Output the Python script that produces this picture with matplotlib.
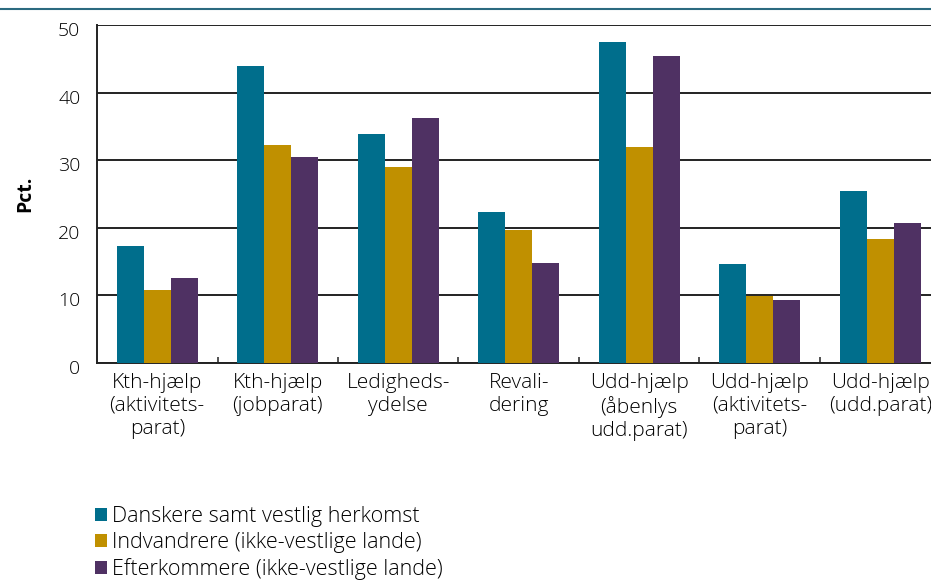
import numpy as np
import matplotlib.pyplot as plt
import matplotlib.transforms as mtransforms
from matplotlib.lines import Line2D
from matplotlib.patches import Patch

categories = ['Kth-hjælp\n(aktivitets-\nparat)', 'Kth-hjælp\n(jobparat)', 'Ledigheds-\nydelse',
              'Revali-\ndering', 'Udd-hjælp\n(åbenlys\nudd.parat)', 'Udd-hjælp\n(aktivitets-\nparat)',
              'Udd-hjælp\n(udd.parat)']
series_names = ['Danskere samt vestlig herkomst', 'Indvandrere (ikke-vestlige lande)',
                'Efterkommere (ikke-vestlige lande)']
danskere = [17.3, 43.9, 33.9, 22.3, 47.5, 14.6, 25.4]
indvandrere = [10.8, 32.2, 29.0, 19.7, 32.0, 9.9, 18.3]
efterkommere = [12.6, 30.5, 36.2, 14.8, 45.4, 9.3, 20.7]
colors = ['#006e8c', '#c09000', '#4f3163']

plt.rcParams['font.family'] = ['Open Sans', 'DejaVu Sans']

fig = plt.figure(figsize=(9.31, 5.81), dpi=100)
ax = fig.add_axes([97 / 931, 1 - 363 / 581, 843.5 / 931, 338 / 581])

x = np.arange(len(categories))
w = 0.224
for i, (vals, c) in enumerate(zip([danskere, indvandrere, efterkommere], colors)):
    ax.bar(x + (i - 1) * w, vals, w, color=c, zorder=3)

ax.set_xlim(-0.5, len(categories) - 0.5)
ax.set_ylim(0, 50)
ax.set_yticks(range(0, 51, 10))
ax.yaxis.grid(True, color='#222222', linewidth=1.4, zorder=0)
ax.tick_params(axis='y', length=0, pad=12, labelsize=14)
shift = mtransforms.ScaledTranslation(0, -4 / 100, fig.dpi_scale_trans)
for lbl in ax.get_yticklabels():
    lbl.set_fontweight('light')
    lbl.set_transform(lbl.get_transform() + shift)
ax.set_xticks(x)
ax.set_xticklabels(categories, fontsize=15, linespacing=1.2, fontweight='light')
ax.tick_params(axis='x', length=0, pad=7)
ax.set_xticks(np.arange(0.5, len(categories) - 1, 1), minor=True)
ax.tick_params(axis='x', which='minor', direction='in', length=4, width=1.2, color='#333333')
for s in ['top', 'right']:
    ax.spines[s].set_visible(False)
ax.spines['left'].set_linewidth(1.4)
ax.spines['bottom'].set_linewidth(1.4)
ax.spines['left'].set_color('#222222')
ax.spines['bottom'].set_color('#222222')
ax.set_ylabel('Pct.', fontsize=14, fontweight='bold', labelpad=16)

fig.add_artist(Line2D([0, 1], [1 - 9 / 581, 1 - 9 / 581], color='#2b6a80', linewidth=1.5))

handles = [Patch(facecolor=c) for c in colors]
fig.legend(handles, series_names, loc='lower left', bbox_to_anchor=(80 / 931, -0.024),
           frameon=False, handlelength=0.55, handleheight=0.55,
           handletextpad=0.25, labelspacing=0.22, borderpad=0.2,
           prop={'weight': 'light', 'size': 15.5})

fig.savefig('out.png', dpi=100)
